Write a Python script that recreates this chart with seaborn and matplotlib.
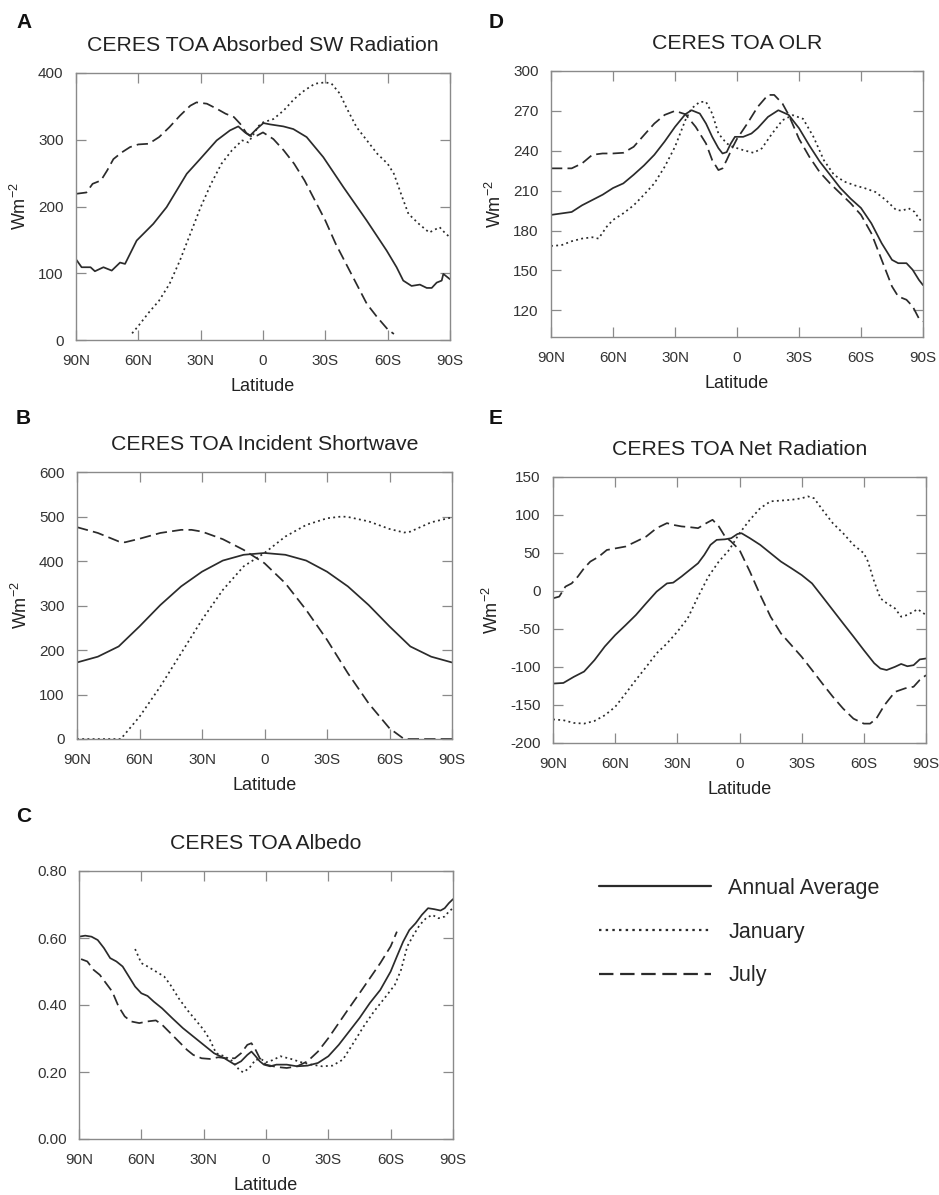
import numpy as np
import pandas as pd
import matplotlib
matplotlib.use("Agg")
import matplotlib.pyplot as plt
from matplotlib.lines import Line2D
import seaborn as sns

# ---------------- data ----------------
# Panel A: CERES TOA Absorbed SW Radiation (W m-2)
A_ann_lat = [90, 87.3, 83, 80.9, 76.8, 72.8, 68.8, 66.4, 60.8, 52.8, 46.4, 36.7, 30.3, 22.3, 15.9, 11.9, 8.7, 6.3,
             3.1, -0.2, -3.4, -9.8, -14.6, -21, -29, -38.7, -49.9, -59.5, -64.3, -67.5, -71.5, -75.5, -78.8, -81.2,
             -83.6, -86, -86.8, -90]
A_ann_val = [121, 109, 109, 103, 109, 104, 116, 114, 149, 174, 199, 249, 271, 299, 314, 320, 311, 306,
             316, 325, 323, 320, 316, 304, 274, 229, 179, 134, 109, 89, 81, 83, 78, 78,
             86, 89, 99, 91]
A_jan_lat = [63, 60, 55, 50, 45, 40, 35, 30, 25, 20, 15, 10, 7, 4, 2, 0, -5, -10, -15, -20, -25, -30, -33, -37,
             -40, -45, -50, -55, -60, -63, -67, -70, -75, -80, -85, -88, -90]
A_jan_val = [10, 21, 41, 59, 84, 119, 159, 199, 234, 264, 284, 299, 296, 311, 321, 326, 331, 344, 361, 374, 384,
             386, 384, 369, 349, 319, 299, 279, 264, 249, 214, 189, 174, 161, 169, 159, 154]
A_jul_lat = [90, 85, 82, 78, 75, 72, 68, 64, 60, 55, 50, 45, 40, 35, 32, 27, 22, 18, 14, 11, 8, 5, 3, 0, -5, -10,
             -15, -20, -25, -30, -35, -40, -45, -50, -55, -60, -63]
A_jul_val = [219, 221, 234, 239, 254, 271, 281, 289, 293, 294, 304, 319, 336, 351, 356, 354, 346, 339, 334, 324,
             310, 304, 306, 311, 301, 284, 264, 239, 209, 179, 144, 114, 84, 54, 34, 16, 9]

# Panel B: CERES TOA Incident Shortwave (W m-2)
B_ann_lat = [90, 80, 70, 60, 50, 40, 30, 20, 10, 0, -10, -20, -30, -40, -50, -60, -70, -80, -90]
B_ann_val = [172, 185, 208, 253, 301, 343, 376, 401, 414, 418, 414, 401, 376, 343, 301, 253, 208, 185, 172]
B_jan_lat = [90, 80, 69, 60, 50, 40, 30, 20, 10, 0, -10, -20, -30, -37, -40, -50, -60, -67, -70, -80, -90]
B_jan_val = [0, 0, 0, 50, 118, 193, 268, 335, 388, 418, 455, 481, 496, 500, 499, 489, 472, 464, 466, 487, 498]
B_jul_lat = [90, 80, 70, 67, 60, 50, 40, 35, 30, 20, 10, 0, -10, -20, -30, -40, -50, -60, -67, -70, -80, -90]
B_jul_val = [476, 463, 444, 442, 450, 463, 470, 470, 466, 449, 425, 395, 350, 290, 223, 148, 80, 24, 0, 0, 0, 0]

# Panel C: CERES TOA Albedo
C_ann_lat = [90, 87, 84, 81, 78, 75, 72, 69, 66, 63, 60, 57, 54, 50, 45, 40, 35, 30, 25, 20, 15, 12, 9, 7, 5, 3, 1,
             -2, -5, -10, -15, -20, -25, -30, -35, -40, -45, -50, -55, -60, -63, -66, -69, -72, -75, -78, -81, -84,
             -86, -88, -90]
C_ann_val = [0.604, 0.607, 0.604, 0.594, 0.570, 0.540, 0.530, 0.515, 0.485, 0.455, 0.435, 0.427, 0.410, 0.390,
             0.360, 0.331, 0.306, 0.281, 0.256, 0.241, 0.222, 0.232, 0.251, 0.261, 0.247, 0.232, 0.222, 0.217,
             0.222, 0.222, 0.217, 0.219, 0.227, 0.247, 0.281, 0.321, 0.361, 0.406, 0.445, 0.500, 0.545, 0.589,
             0.624, 0.644, 0.669, 0.689, 0.686, 0.682, 0.689, 0.704, 0.716]
C_jan_lat = [63, 60, 57, 53, 49, 46, 42, 38, 34, 30, 27, 24, 20, 16, 13, 11, 8, 5, 2, 0, -3, -7, -12, -17, -22,
             -27, -32, -37, -42, -47, -52, -57, -62, -65, -68, -71, -74, -77, -80, -83, -86, -88, -90]
C_jan_val = [0.567, 0.525, 0.515, 0.500, 0.485, 0.460, 0.420, 0.386, 0.356, 0.326, 0.296, 0.256, 0.247, 0.232,
             0.207, 0.199, 0.212, 0.237, 0.237, 0.229, 0.235, 0.247, 0.239, 0.229, 0.222, 0.217, 0.219, 0.237,
             0.286, 0.336, 0.381, 0.420, 0.460, 0.505, 0.575, 0.609, 0.639, 0.659, 0.669, 0.659, 0.664, 0.679,
             0.689]
C_jul_lat = [89, 86, 83, 80, 77, 74, 71, 68, 65, 61, 57, 53, 50, 46, 42, 38, 35, 31, 27, 23, 19, 15, 12, 9, 7, 5,
             3, 0, -5, -10, -15, -20, -25, -30, -35, -40, -45, -50, -55, -60, -63]
C_jul_val = [0.537, 0.530, 0.505, 0.490, 0.465, 0.440, 0.396, 0.366, 0.351, 0.346, 0.351, 0.354, 0.341, 0.316,
             0.291, 0.266, 0.251, 0.241, 0.239, 0.244, 0.241, 0.241, 0.256, 0.281, 0.286, 0.266, 0.241, 0.222,
             0.215, 0.212, 0.217, 0.232, 0.261, 0.301, 0.346, 0.391, 0.435, 0.480, 0.525, 0.575, 0.619]

# Panel D: CERES TOA OLR (W m-2)
D_ann_lat = [90, 80, 75, 70, 65, 60, 55, 50, 45, 40, 35, 30, 25, 22, 18, 15, 12, 9, 7, 5, 3, 1, 0, -3, -7, -10,
             -15, -20, -25, -30, -35, -40, -45, -50, -55, -60, -65, -70, -75, -78, -82, -85, -88, -90]
D_ann_val = [191.8, 194, 199, 203, 207, 212, 215.5, 222, 229, 237, 247, 258, 267.5, 270.5, 268, 260.5, 250.5,
             242, 238, 239, 245.5, 250.5, 250.5, 250.5, 253, 257, 265.5, 270.5, 267, 257, 244, 232, 222, 212,
             204, 197, 185.5, 170.5, 158, 155.5, 155.5, 150.5, 143, 139]
D_jan_lat = [90, 85, 80, 75, 70, 67, 63, 60, 55, 50, 45, 40, 35, 30, 25, 22, 18, 15, 12, 9, 5, 2, -3, -8, -12,
             -17, -22, -27, -32, -37, -42, -47, -52, -57, -62, -67, -72, -77, -80, -83, -86, -88, -90]
D_jan_val = [168.5, 169, 172, 174, 175, 174, 183, 188, 193, 199, 207, 215.5, 228, 243, 263, 271.8, 276.8, 276.8,
             268, 253, 245.5, 243, 240.5, 238.5, 241.8, 253, 263, 266.8, 264, 250.5, 233, 221.8, 216.8, 214,
             211.8, 209, 203, 195.5, 195, 196.8, 194, 189, 186]
D_jul_lat = [90, 80, 75, 70, 65, 60, 55, 50, 45, 40, 35, 30, 25, 20, 15, 12, 9, 7, 5, 2, 0, -5, -10, -15, -18,
             -22, -25, -30, -35, -40, -45, -50, -55, -60, -65, -70, -75, -78, -82, -85, -88, -90]
D_jul_val = [226.8, 226.8, 230.5, 237, 238, 238, 238.5, 243, 251.8, 260.5, 267, 270, 267.5, 258, 245.5, 233,
             225.5, 226.8, 233, 243, 249, 260.5, 273, 282, 282, 275.5, 267, 249, 235.5, 224, 215.5, 208, 200.5,
             191.8, 178, 158, 138, 130.5, 128, 123, 114, 111.8]

# Panel E: CERES TOA Net Radiation (W m-2)
E_ann_lat = [90, 85, 80, 75, 70, 65, 60, 55, 50, 45, 40, 35, 32, 28, 25, 20, 17, 14, 11, 7, 4, 1, -1, -5, -10,
             -15, -20, -25, -30, -35, -40, -45, -50, -55, -60, -65, -68, -71, -75, -78, -81, -84, -87, -90]
E_ann_val = [-121.8, -121, -113, -106, -91, -73, -58, -45, -31.6, -16, -0.8, 10, 11, 19, 25.6, 36.5, 47.5, 60.7,
             67.3, 68, 69.5, 75, 76, 69.5, 60.7, 49.7, 38.7, 30, 21, 10, -7.4, -25, -42.6, -60, -77.8, -95, -102,
             -104, -99.8, -96, -99, -97.6, -90, -88.8]
E_jan_lat = [90, 85, 80, 75, 70, 65, 60, 55, 50, 45, 40, 35, 30, 25, 20, 15, 10, 5, 0, -5, -10, -15, -20, -25,
             -30, -33, -36, -40, -45, -50, -55, -60, -62, -65, -68, -71, -75, -78, -81, -84, -86, -90]
E_jan_val = [-169, -170, -173.6, -174.5, -171, -163.5, -152.5, -135, -117, -99.8, -82, -69, -53.6, -36, -7.4, 19,
             38.7, 54, 76, 93.7, 109, 118, 119, 120, 122, 124.5, 122, 107, 89.3, 76, 60.7, 49.7, 38.7, 12.4,
             -9.6, -16, -22.8, -33.8, -31.6, -27, -24, -31.6]
E_jul_lat = [90, 87, 84, 81, 78, 75, 72, 68, 64, 60, 55, 50, 45, 40, 35, 32, 28, 24, 20, 16, 13, 10, 7, 4, 0,
             -5, -10, -15, -20, -25, -30, -35, -40, -45, -50, -55, -60, -63, -66, -70, -75, -80, -84, -87, -90]
E_jul_val = [-9.6, -7.4, 5.8, 10, 19, 30, 38.7, 45, 54, 56, 58.5, 65, 71.7, 82.7, 89.3, 87, 85, 84, 82.7, 89.3,
             93.7, 85, 71.7, 65, 54, 25.6, -5.2, -33.8, -55.8, -71.2, -86.6, -104, -121.8, -139, -154.7, -168,
             -174.5, -174.5, -168, -150, -132.8, -128, -126, -117, -110.8]

lat_ticks = [90, 60, 30, 0, -30, -60, -90]
lat_labels = ["90N", "60N", "30N", "0", "30S", "60S", "90S"]
series_names = ["Annual Average", "January", "July"]

# ---------------- style ----------------
sns.set_theme(style="ticks")
plt.rcParams["font.family"] = ["Liberation Sans", "DejaVu Sans"]
plt.rcParams["mathtext.default"] = "regular"

LINE = "#2b2b2b"
FRAME = "#8a8a8a"
styles = {"Annual Average": "-", "January": (0, (1.1, 1.9)), "July": (0, (6.5, 3))}

fig = plt.figure(figsize=(9.39, 11.95), dpi=100)
W, H = 939.0, 1195.0


def make_axes(x0, y0, x1, y1):
    return fig.add_axes([x0 / W, 1 - y1 / H, (x1 - x0) / W, (y1 - y0) / H])


def draw_panel(ax, lats, vals, title, ylim, yticks, yfmt):
    for name, la, va in zip(series_names, lats, vals):
        df = pd.DataFrame({"lat": la, "val": va})
        sns.lineplot(data=df, x="lat", y="val", ax=ax, sort=False, estimator=None,
                     color=LINE, linewidth=1.25, linestyle=styles[name])
    ax.set_xlim(90, -90)
    ax.set_ylim(*ylim)
    ax.set_xticks(lat_ticks)
    ax.set_xticklabels(lat_labels)
    ax.set_yticks(yticks)
    ax.set_yticklabels([yfmt.format(v) for v in yticks])
    ax.tick_params(direction="in", top=True, right=True, length=7, width=0.9,
                   color=FRAME, labelsize=11, labelcolor="#333333")
    ax.tick_params(axis="x", pad=10)
    ax.tick_params(axis="y", pad=9)
    for s in ax.spines.values():
        s.set_color(FRAME)
        s.set_linewidth(1.0)
    ax.set_xlabel("Latitude", fontsize=13, color="#222222", labelpad=7)
    ax.set_ylabel("Wm$^{-2}$", fontsize=13, color="#222222", labelpad=6)
    ax.set_title(title, fontsize=15.3, color="#222222", pad=16)


axA = make_axes(76, 73, 450, 340)
draw_panel(axA, [A_ann_lat, A_jan_lat, A_jul_lat], [A_ann_val, A_jan_val, A_jul_val],
           "CERES TOA Absorbed SW Radiation", (0, 400), [0, 100, 200, 300, 400], "{:d}")

axB = make_axes(77, 472, 452, 739)
draw_panel(axB, [B_ann_lat, B_jan_lat, B_jul_lat], [B_ann_val, B_jan_val, B_jul_val],
           "CERES TOA Incident Shortwave", (0, 600), [0, 100, 200, 300, 400, 500, 600], "{:d}")

axC = make_axes(79, 871, 453, 1139)
draw_panel(axC, [C_ann_lat, C_jan_lat, C_jul_lat], [C_ann_val, C_jan_val, C_jul_val],
           "CERES TOA Albedo", (0, 0.8), [0.0, 0.2, 0.4, 0.6, 0.8], "{:.2f}")
axC.set_ylabel("")

axD = make_axes(551, 71, 923, 337)
draw_panel(axD, [D_ann_lat, D_jan_lat, D_jul_lat], [D_ann_val, D_jan_val, D_jul_val],
           "CERES TOA OLR", (100, 300), [120, 150, 180, 210, 240, 270, 300], "{:d}")

axE = make_axes(553, 477, 926, 743)
draw_panel(axE, [E_ann_lat, E_jan_lat, E_jul_lat], [E_ann_val, E_jan_val, E_jul_val],
           "CERES TOA Net Radiation", (-200, 150), [-200, -150, -100, -50, 0, 50, 100, 150], "{:d}")

# panel letters
for letter, (px, py) in zip("ADBEC", [(16, 22), (489, 22), (16, 418), (489, 419), (16, 817)]):
    fig.text(px / W, 1 - py / H, letter, fontsize=15, fontweight="bold", color="#111111",
             ha="left", va="center")

# legend
handles = [Line2D([0], [0], color=LINE, linewidth=1.6, linestyle=styles[n]) for n in series_names]
fig.legend(handles, series_names, loc="upper left", bbox_to_anchor=(599 / W, 1 - 878 / H),
           frameon=False, fontsize=15.5, handlelength=5.2, handletextpad=0.8, labelspacing=1.05,
           borderpad=0, borderaxespad=0)

fig.savefig("out.png", dpi=100)
